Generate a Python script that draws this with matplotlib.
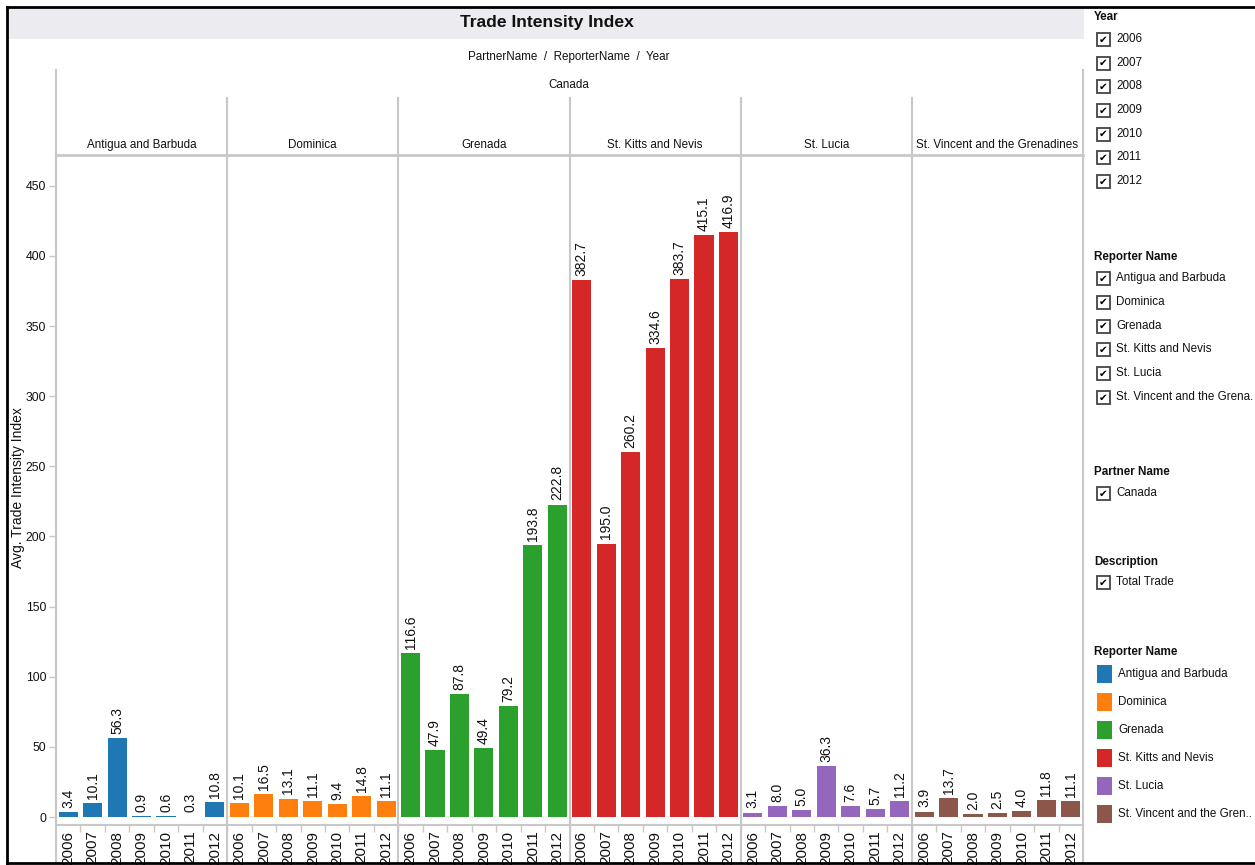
import matplotlib
matplotlib.use('Agg')
import matplotlib.pyplot as plt
from matplotlib import font_manager
from matplotlib.patches import Rectangle
from matplotlib.lines import Line2D
from matplotlib.transforms import blended_transform_factory

# data
years = ['2006', '2007', '2008', '2009', '2010', '2011', '2012']
reporters = ['Antigua and Barbuda', 'Dominica', 'Grenada', 'St. Kitts and Nevis',
             'St. Lucia', 'St. Vincent and the Grenadines']
antigua = [3.4, 10.1, 56.3, 0.9, 0.6, 0.3, 10.8]
dominica = [10.1, 16.5, 13.1, 11.1, 9.4, 14.8, 11.1]
grenada = [116.6, 47.9, 87.8, 49.4, 79.2, 193.8, 222.8]
st_kitts = [382.7, 195.0, 260.2, 334.6, 383.7, 415.1, 416.9]
st_lucia = [3.1, 8.0, 5.0, 36.3, 7.6, 5.7, 11.2]
st_vincent = [3.9, 13.7, 2.0, 2.5, 4.0, 11.8, 11.1]
series = [antigua, dominica, grenada, st_kitts, st_lucia, st_vincent]
colors = ['#1f77b4', '#ff7f0e', '#2ca02c', '#d62728', '#9467bd', '#8c564b']
yticks = [0, 50, 100, 150, 200, 250, 300, 350, 400, 450]
filter_years = years
filter_reporters = ['Antigua and Barbuda', 'Dominica', 'Grenada', 'St. Kitts and Nevis',
                    'St. Lucia', 'St. Vincent and the Grena.']
legend_names = ['Antigua and Barbuda', 'Dominica', 'Grenada', 'St. Kitts and Nevis',
                'St. Lucia', 'St. Vincent and the Gren..']

# narrow font like tableau, if we have it
try:
    font_manager.findfont(font_manager.FontProperties(family='Liberation Sans Narrow'),
                          fallback_to_default=False)
    NARROW = 'Liberation Sans Narrow'
    k = 1.0
except ValueError:
    NARROW = 'Liberation Sans'
    k = 0.84
REG = 'Liberation Sans'
TXT = '#111111'
GRID = '#c8c8c8'

W, H = 1255, 865
fig = plt.figure(figsize=(W / 100, H / 100), dpi=100)


def fx(x):
    return x / W


def fy(y):
    return 1 - y / H


def ftext(x, y, s, size, bold=False, family=None, **kw):
    fig.text(fx(x), fy(y), s, fontsize=size, family=family or NARROW,
             fontweight='bold' if bold else 'normal', color=TXT, **kw)


# outer border (left, top, bottom)
for xs, ys in [([7, 7], [7, 863]), ([7, W], [7, 7]), ([7, W], [863, 863])]:
    fig.add_artist(Line2D([fx(v) for v in xs], [fy(v) for v in ys], color='black', lw=2))

# title band
fig.add_artist(Rectangle((fx(8), fy(39)), fx(1084) - fx(8), fy(8) - fy(39),
                         transform=fig.transFigure, facecolor='#ebebf0', edgecolor='none'))
ftext(547, 22, 'Trade Intensity Index', 15 * k, bold=True, ha='center', va='center')
ftext(569, 57, 'PartnerName  /  ReporterName  /  Year', 10 * k, ha='center', va='center')
ftext(569, 85, 'Canada', 10 * k, ha='center', va='center')

ax = fig.add_axes([fx(56), fy(825), fx(1083) - fx(56), fy(155) - fy(825)])
n = len(years)
for i, vals in enumerate(series):
    xs = [i * n + j + 0.5 for j in range(n)]
    ax.bar(xs, vals, width=0.78, color=colors[i], zorder=3)
    for x, v in zip(xs, vals):
        ax.annotate('%.1f' % v, (x, v), xytext=(0, 3), textcoords='offset points',
                    rotation=90, ha='center', va='bottom', fontsize=10,
                    family=REG, color=TXT)
    ftext(56 + (i + 0.5) * (1083 - 56) / len(series), 145, reporters[i], 10 * k,
          ha='center', va='center')

ax.set_xlim(0, n * len(series))
ax.set_ylim(-5.7, 472)
ax.set_yticks(yticks)
ax.set_yticklabels([str(t) for t in yticks], family=NARROW, fontsize=10.5 * k, color=TXT)
ax.set_xticks([j + 0.5 for j in range(n * len(series))])
ax.set_xticklabels(years * len(series), rotation=90, family=REG, fontsize=11, color=TXT)
ax.set_xticks(range(1, n * len(series)), minor=True)
ax.tick_params(axis='x', which='major', length=0, pad=4)
ax.tick_params(axis='x', which='minor', length=5, color=GRID, width=1)
ax.tick_params(axis='y', length=5, color=GRID, width=1, pad=2)
for s in ['top', 'right']:
    ax.spines[s].set_visible(False)
for s in ['left', 'bottom']:
    ax.spines[s].set_color(GRID)
    ax.spines[s].set_linewidth(1.5)
ftext(18, 488, 'Avg. Trade Intensity Index', 10, family=REG, rotation=90,
      ha='center', va='center')

# panel dividers running through header and year labels
tr = blended_transform_factory(ax.transData, fig.transFigure)
for d in range(len(series) + 1):
    x = d * n
    top = 70 if d in (0, len(series)) else 98
    ax.plot([x, x], [fy(top), fy(863)], transform=tr, color=GRID, lw=1.5,
            clip_on=False, zorder=1)
fig.add_artist(Line2D([fx(56), fx(1083)], [fy(155), fy(155)], color=GRID, lw=2))


# right side filters
def checkbox(y, label):
    fig.add_artist(Rectangle((fx(1097), fy(y + 7)), 13 / W, 13 / H, transform=fig.transFigure,
                             facecolor='white', edgecolor='#444444', lw=1.3))
    fig.text(fx(1103.5), fy(y + 0.5), '\u2714', fontsize=7.5, family='DejaVu Sans',
             ha='center', va='center', color='black')
    ftext(1116, y, label, 10 * k, va='center')


ftext(1094, 17, 'Year', 10 * k, bold=True, va='center')
for i, yr in enumerate(filter_years):
    checkbox(39 + i * 23.7, yr)
ftext(1094, 257, 'Reporter Name', 10 * k, bold=True, va='center')
for i, r in enumerate(filter_reporters):
    checkbox(278 + i * 23.8, r)
ftext(1094, 472, 'Partner Name', 10 * k, bold=True, va='center')
checkbox(493, 'Canada')
ftext(1094, 562, 'Description', 10 * k, bold=True, va='center')
checkbox(582, 'Total Trade')

ftext(1094, 652, 'Reporter Name', 10 * k, bold=True, va='center')
for i, r in enumerate(legend_names):
    y = 674 + i * 28
    fig.add_artist(Rectangle((fx(1097), fy(y + 9)), 15 / W, 18 / H, transform=fig.transFigure,
                             facecolor=colors[i], edgecolor='none'))
    ftext(1118, y, r, 10 * k, va='center')

fig.savefig('out.png', dpi=100)
